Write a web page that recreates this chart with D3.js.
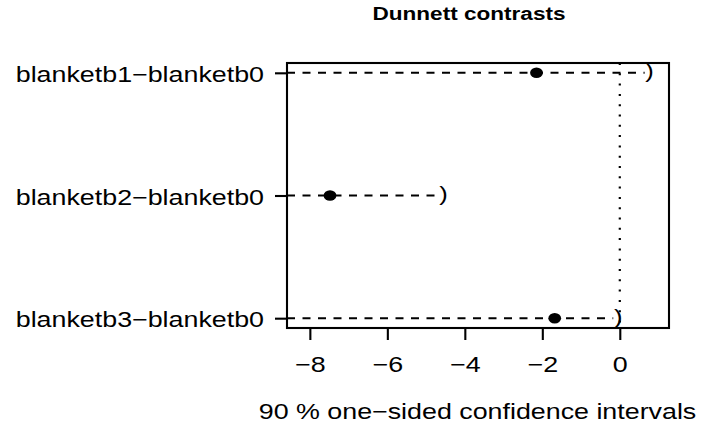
<!DOCTYPE html>
<html>
<head>
<meta charset="utf-8">
<script src="https://cdn.jsdelivr.net/npm/d3@7"></script>
<style>
  body { margin: 0; background: #fff; }
  text { font-family: "Liberation Sans", Arial, sans-serif; fill: #000; }
</style>
</head>
<body>
<div id="graphArea"></div>
<script>
var contrasts = ["blanketb1\u2212blanketb0", "blanketb2\u2212blanketb0", "blanketb3\u2212blanketb0"];
var estimates = [-2.15, -7.48, -1.68];
var upper = [0.77, -4.55, -0.04];
var xTicks = [-8, -6, -4, -2, 0];
var title = "Dunnett contrasts";
var xLabel = "90 % one\u2212sided confidence intervals";

// the reference is stretched horizontally, so text is too
var sx = 1.22;

function visualize() {
    var w = 702, h = 427;
    var left = 287, right = 669, top = 63, bottom = 328;

    var svg = d3.select("#graphArea").append("svg").attr("width", w).attr("height", h);

    var x = d3.scaleLinear().domain([-8.59, 1.27]).range([left, right]);
    var y = d3.scaleLinear().domain([0.92, 3.08]).range([bottom, top]);
    var row = (i) => y(contrasts.length - i);

    // zero reference line
    svg.append("line")
        .attr("x1", x(0)).attr("x2", x(0))
        .attr("y1", top).attr("y2", bottom)
        .attr("stroke", "#000").attr("stroke-width", 2.2)
        .attr("stroke-dasharray", "2,8.3");

    // one-sided intervals
    svg.selectAll(".ci")
        .data(contrasts)
        .enter()
        .append("line")
        .attr("class", "ci")
        .attr("x1", left)
        .attr("x2", (d, i) => x(upper[i]) - 5)
        .attr("y1", (d, i) => row(i))
        .attr("y2", (d, i) => row(i))
        .attr("stroke", "#000").attr("stroke-width", 2.1)
        .attr("stroke-dasharray", "8,7.5");

    svg.selectAll(".upr")
        .data(contrasts)
        .enter()
        .append("text")
        .attr("class", "upr")
        .attr("transform", (d, i) => "translate(" + x(upper[i]) + "," + (row(i) + 5.5) + ") scale(" + sx + ",1)")
        .attr("text-anchor", "middle")
        .style("font-size", "21px")
        .text(")");

    svg.selectAll(".est")
        .data(contrasts)
        .enter()
        .append("ellipse")
        .attr("class", "est")
        .attr("cx", (d, i) => x(estimates[i]))
        .attr("cy", (d, i) => row(i))
        .attr("rx", 6.4).attr("ry", 5.3)
        .attr("fill", "#000");

    // box
    svg.append("rect")
        .attr("x", left).attr("y", top)
        .attr("width", right - left).attr("height", bottom - top)
        .attr("fill", "none").attr("stroke", "#000").attr("stroke-width", 2.1);

    var xAxis = d3.axisBottom(x).tickValues(xTicks).tickSize(12)
        .tickFormat((d) => (d < 0 ? "\u2212" + Math.abs(d) : "" + d));
    var xg = svg.append("g").attr("id", "x-axis")
        .attr("transform", "translate(0," + bottom + ")")
        .call(xAxis);
    xg.select(".domain").remove();
    xg.selectAll("line").attr("stroke", "#000").attr("stroke-width", 2.1);
    xg.selectAll("text")
        .attr("y", 0).attr("dy", 0)
        .attr("transform", "translate(0,44) scale(" + sx + ",1)")
        .style("font-size", "22px").attr("font-family", null);

    var yAxis = d3.axisLeft(y).tickValues([3, 2, 1]).tickSize(12)
        .tickFormat((d) => contrasts[contrasts.length - d]);
    var yg = svg.append("g").attr("id", "y-axis")
        .attr("transform", "translate(" + left + ",0)")
        .call(yAxis);
    yg.select(".domain").remove();
    yg.selectAll("line").attr("stroke", "#000").attr("stroke-width", 2.1);
    yg.selectAll("text")
        .attr("x", 0).attr("dy", 0)
        .attr("transform", "translate(-23,8.8) scale(" + sx + ",1)")
        .style("font-size", "22px").attr("font-family", null);

    svg.append("text")
        .attr("transform", "translate(469,20) scale(" + sx + ",1)")
        .attr("text-anchor", "middle")
        .style("font-size", "18.5px").style("font-weight", "bold")
        .text(title);

    svg.append("text")
        .attr("transform", "translate(477.5,419) scale(" + sx + ",1)")
        .attr("text-anchor", "middle")
        .style("font-size", "22px")
        .text(xLabel);
}

document.addEventListener('DOMContentLoaded', () => {
    visualize();
});
</script>
</body>
</html>
